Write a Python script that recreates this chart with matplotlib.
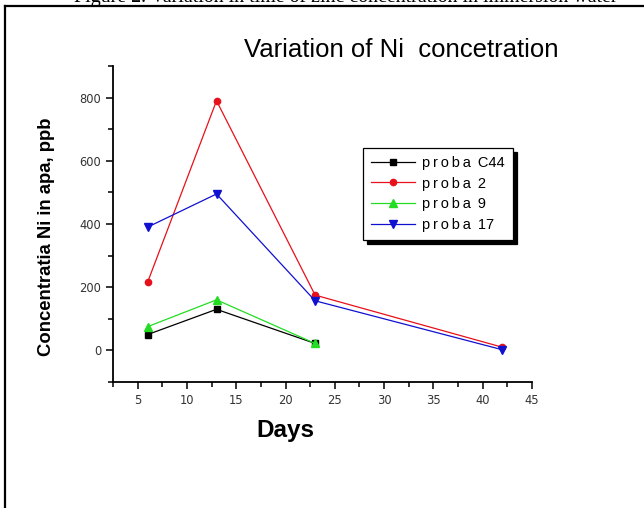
import matplotlib
matplotlib.use("Agg")
import matplotlib.pyplot as plt
from matplotlib.lines import Line2D
from matplotlib.ticker import MultipleLocator

# zile de imersie
days_a = [6, 13, 23]
days_b = [6, 13, 23, 42]

# concentratia Ni [ppb]
c44 = [50, 130, 22]
p2 = [215, 790, 175, 10]
p9 = [75, 160, 22]
p17 = [390, 495, 157, 2]

names = ["proba C44", "proba 2", "proba 9", "proba 17"]

fig = plt.figure(figsize=(6.44, 5.08), dpi=100)
W, H = 644, 508

# caption + chenar (din document)
fig.text(74 / W, 1 - 2 / H, "Figure 2. Variation in time of zinc concentration in immersion water",
         family="Liberation Serif", fontsize=14.3, va="baseline", ha="left")
fig.add_artist(Line2D([5 / W, 5 / W], [0, 1 - 6 / H], color="k", lw=1.6))
fig.add_artist(Line2D([5 / W, 1], [1 - 6 / H, 1 - 6 / H], color="k", lw=1.6))

ax = fig.add_axes([113 / W, 1 - 382 / H, (532 - 113) / W, (382 - 66) / H])

# spatiere intre litere ca in Origin
sp = "\u2009"
labels = [sp.join(n.split(" ")[0]) + sp + " " + n.split(" ")[1] for n in names]

ax.plot(days_a, c44, "-s", color="k", lw=0.9, ms=4, label=labels[0])
ax.plot(days_b, p2, "-o", color="#e8101a", lw=0.9, ms=4.5, label=labels[1])
ax.plot(days_a, p9, "-^", color="#22dd22", lw=0.9, ms=5.5, label=labels[2])
ax.plot(days_b, p17, "-v", color="#1010d0", lw=0.9, ms=5.5, label=labels[3])

ax.set_xlim(2.5, 45)
ax.set_ylim(-100, 900)
ax.xaxis.set_major_locator(MultipleLocator(5))
ax.xaxis.set_minor_locator(MultipleLocator(2.5))
ax.yaxis.set_minor_locator(MultipleLocator(100))
ax.set_yticks([0, 200, 400, 600, 800])
ax.spines["top"].set_visible(False)
ax.spines["right"].set_visible(False)
for s in ("left", "bottom"):
    ax.spines[s].set_linewidth(1.3)
ax.tick_params(which="major", direction="out", length=5, width=1.1, labelsize=8.3, labelcolor="#333333")
ax.tick_params(which="minor", direction="out", length=3.5, width=1.1)

ax.set_xlabel("Days", family="Liberation Sans", fontweight="bold", fontsize=17.5)
ax.xaxis.set_label_coords((285 - 113) / (532 - 113), -(430 - 382) / (382 - 66))
ax.set_ylabel("Concentratia Ni in apa, ppb", family="Liberation Sans", fontweight="bold", fontsize=13.3)
ax.yaxis.set_label_coords(-(113 - 47) / (532 - 113), (382 - 237) / (382 - 66))
ax.xaxis.label.set_va("center")
ax.yaxis.label.set_va("center")

fig.text(401 / W, 1 - 57 / H, "Variation of Ni  concetration", family="Liberation Sans",
         fontsize=18.5, ha="center", va="baseline")

leg = ax.legend(loc="upper left", bbox_to_anchor=(363 / W, 1 - 148 / H), bbox_transform=fig.transFigure,
                prop={"family": ["Liberation Sans", "DejaVu Sans"], "size": 10.5}, handlelength=3.0,
                handletextpad=0.5, labelspacing=0.45, borderpad=0.55, borderaxespad=0, fancybox=False,
                edgecolor="k", shadow={"color": "k", "alpha": 1, "ox": 3, "oy": -3})
leg.get_frame().set_linewidth(0.9)

plt.savefig("out.png", dpi=100)
